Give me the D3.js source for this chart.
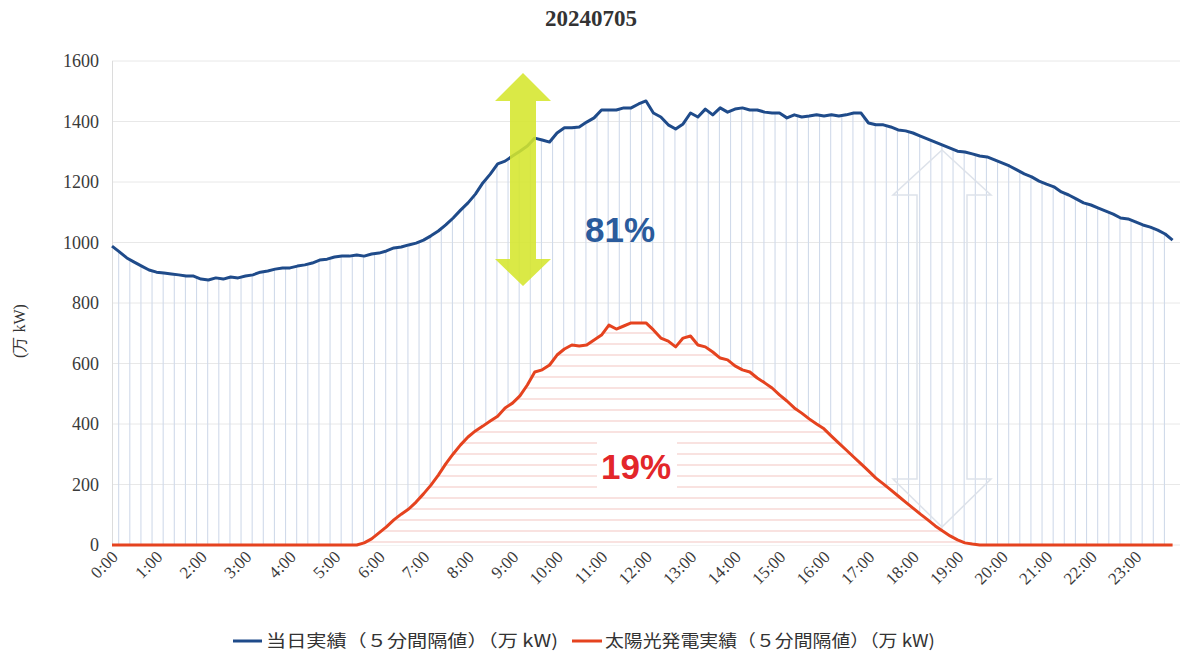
<!DOCTYPE html>
<html><head><meta charset="utf-8">
<script src="https://cdn.jsdelivr.net/npm/d3@7"></script>
<style>html,body{margin:0;padding:0;background:#fff;}svg{display:block;}</style>
</head><body>
<svg id="chart" width="1181" height="659"></svg>
<script>
const title = "20240705";
const yTicks = [0, 200, 400, 600, 800, 1000, 1200, 1400, 1600];
const xTickLabels = ["0:00","1:00","2:00","3:00","4:00","5:00","6:00","7:00","8:00","9:00","10:00","11:00","12:00","13:00","14:00","15:00","16:00","17:00","18:00","19:00","20:00","21:00","22:00","23:00"];
const yAxisTitle = "(万 kW)";
const legendLabels = ["当日実績（５分間隔値）（万 kW)", "太陽光発電実績（５分間隔値）（万 kW)"];
const shareLabels = ["81%", "19%"];
// 10-minute samples, 0:00 .. 23:50 (万kW)
const demand = [
 988,969,949,935,922,909, 902,899,896,893,889,889,
 879,876,883,879,886,883, 889,893,902,906,912,916,
 916,922,926,932,942,945, 952,955,955,959,955,962,
 965,972,982,985,992,998, 1008,1022,1038,1058,1081,1107,
 1131,1160,1197,1226,1260,1269, 1286,1302,1319,1345,1339,1332,
 1362,1379,1379,1382,1398,1412, 1438,1438,1438,1445,1445,1458,
 1468,1428,1415,1389,1375,1392, 1428,1415,1441,1422,1445,1431,
 1441,1445,1438,1438,1431,1428, 1428,1412,1422,1415,1418,1422,
 1418,1422,1418,1422,1428,1428, 1395,1389,1389,1382,1372,1369,
 1362,1352,1342,1332,1322,1312, 1302,1299,1293,1286,1283,1273,
 1263,1253,1240,1227,1217,1203, 1193,1184,1167,1157,1144,1131,
 1124,1114,1104,1094,1081,1078, 1068,1058,1051,1041,1028,1008
];
const solar = [
 0,0,0,0,0,0, 0,0,0,0,0,0,
 0,0,0,0,0,0, 0,0,0,0,0,0,
 0,0,0,0,0,0, 0,0,0,0,7,20,
 40,60,83,102,119,142, 169,198,231,268,301,331,
 357,377,393,410,426,453, 469,493,529,572,579,595,
 628,648,661,658,661,678, 694,727,714,724,734,734,
 734,711,684,674,655,684, 691,661,655,638,618,612,
 592,579,572,552,536,519, 496,476,453,436,417,400,
 384,360,337,314,291,268, 245,221,202,182,162,142,
 122,102,83,63,46,30, 17,7,3,0,0,0,
 0,0,0,0,0,0, 0,0,0,0,0,0,
 0,0,0,0,0,0, 0,0,0,0,0,0
];
const times = demand.map((d, i) => i / 6);

const svg = d3.select("#chart");
const x = d3.scaleLinear().domain([0, 24]).range([112, 1180]);
const y = d3.scaleLinear().domain([0, 1600]).range([545, 61]);
const blue = "#1f4b8a", red = "#e5431f";
const serif = "'Liberation Serif','DejaVu Serif',serif";
const cjk = "'Noto Sans CJK JP','Noto Sans',sans-serif";

// title
svg.append("text").attr("x", 591).attr("y", 26).attr("text-anchor", "middle")
  .attr("font-family", serif).attr("font-size", 23).attr("font-weight", "bold").attr("fill", "#333").text(title);

// grid
svg.append("g").selectAll("line").data(yTicks).join("line")
  .attr("x1", 112).attr("x2", 1180).attr("y1", d => y(d)).attr("y2", d => y(d))
  .attr("stroke", "#e8e8e8").attr("stroke-width", 1);
svg.append("line").attr("x1", 112.5).attr("x2", 112.5).attr("y1", y(1600)).attr("y2", y(0))
  .attr("stroke", "#dcdcdc");

// y axis labels
svg.append("g").selectAll("text").data(yTicks).join("text")
  .attr("x", 99).attr("y", d => y(d) + 6).attr("text-anchor", "end")
  .attr("font-family", serif).attr("font-size", 18).attr("fill", "#3a3a3a").text(d => d);
svg.append("text").attr("transform", "translate(25,331) rotate(-90)").attr("text-anchor", "middle")
  .attr("font-family", serif).attr("font-size", 16).attr("fill", "#333").text(yAxisTitle);

// x labels (rotated 45°)
const xl = svg.append("g").selectAll("g").data(xTickLabels).join("g")
  .attr("transform", (d, i) => "translate(" + (x(i) + 7) + ",558)");
xl.append("text")
  .attr("transform", "rotate(-45)")
  .attr("text-anchor", "end")
  .attr("font-family", serif).attr("font-size", 17).attr("fill", "#3a3a3a").text(d => d);

const pts = times.map((t, i) => ({ t, d: demand[i], s: solar[i] }));
const defs = svg.append("defs");
const areaBlue = d3.area().x(p => x(p.t)).y0(y(0)).y1(p => y(p.d));
const areaRed = d3.area().x(p => x(p.t)).y0(y(0)).y1(p => y(p.s));
defs.append("clipPath").attr("id", "clipBlue").append("path").attr("d", areaBlue(pts));
defs.append("clipPath").attr("id", "clipRed").append("path").attr("d", areaRed(pts));

// vertical hatch under demand
const vlines = d3.range(0.15, 24, 0.25);
svg.append("g").attr("clip-path", "url(#clipBlue)").selectAll("line").data(vlines).join("line")
  .attr("x1", d => x(d)).attr("x2", d => x(d)).attr("y1", y(1600)).attr("y2", y(0))
  .attr("stroke", "#d0daea").attr("stroke-width", 1.1);

// red area: white fill + horizontal hatch
svg.append("path").attr("d", areaRed(pts)).attr("fill", "#fff");
const hy = d3.range(y(0) - 3, y(800), -11);
svg.append("g").attr("clip-path", "url(#clipRed)").selectAll("line").data(hy).join("line")
  .attr("x1", 112).attr("x2", 1180).attr("y1", d => d).attr("y2", d => d)
  .attr("stroke", "#f4c6c1").attr("stroke-width", 1.1);

// 19% label box
svg.append("rect").attr("x", 597).attr("y", 442).attr("width", 80).attr("height", 46).attr("fill", "#fff");

// faint outline arrow
const oa = [[942,150],[991,195],[967,195],[967,479],[991,479],[942,527],[893,479],[917,479],[917,195],[893,195]];
svg.append("path").attr("d", "M" + oa.map(p => p.join(",")).join("L") + "Z")
  .attr("fill", "none").attr("stroke", "#dde2ea").attr("stroke-width", 1.5);

// lines
const lineD = d3.line().x(p => x(p.t)).y(p => y(p.d));
const lineS = d3.line().x(p => x(p.t)).y(p => y(p.s));
svg.append("path").attr("d", lineD(pts)).attr("fill", "none").attr("stroke", blue)
  .attr("stroke-width", 3).attr("stroke-linejoin", "round");
svg.append("path").attr("d", lineS(pts)).attr("fill", "none").attr("stroke", red)
  .attr("stroke-width", 3).attr("stroke-linejoin", "round");

// yellow arrow
const ya = [[523,73],[551,101],[536,101],[536,259],[551,259],[523,286],[495,259],[510,259],[510,101],[495,101]];
svg.append("path").attr("d", "M" + ya.map(p => p.join(",")).join("L") + "Z")
  .attr("fill", "#d5e62c").attr("opacity", 0.88);

// percentages
svg.append("text").attr("x", 620).attr("y", 242).attr("text-anchor", "middle")
  .attr("font-family", "'Liberation Sans',Arial,sans-serif").attr("font-weight", "bold")
  .attr("font-size", 35).attr("fill", "#2a5b9c").text(shareLabels[0]);
svg.append("text").attr("x", 636).attr("y", 479).attr("text-anchor", "middle")
  .attr("font-family", "'Liberation Sans',Arial,sans-serif").attr("font-weight", "bold")
  .attr("font-size", 35).attr("fill", "#e3262a").text(shareLabels[1]);

// legend
const lg = svg.append("g");
lg.append("line").attr("x1", 233).attr("x2", 262).attr("y1", 641).attr("y2", 641).attr("stroke", blue).attr("stroke-width", 3);
lg.append("text").attr("x", 266).attr("y", 647).attr("font-family", cjk).attr("font-size", 17)
  .attr("textLength", 292).attr("lengthAdjust", "spacingAndGlyphs").attr("fill", "#333").text(legendLabels[0]);
lg.append("line").attr("x1", 572).attr("x2", 602).attr("y1", 641).attr("y2", 641).attr("stroke", red).attr("stroke-width", 3);
lg.append("text").attr("x", 605).attr("y", 647).attr("font-family", cjk).attr("font-size", 17)
  .attr("textLength", 330).attr("lengthAdjust", "spacingAndGlyphs").attr("fill", "#333").text(legendLabels[1]);
</script>
</body></html>
